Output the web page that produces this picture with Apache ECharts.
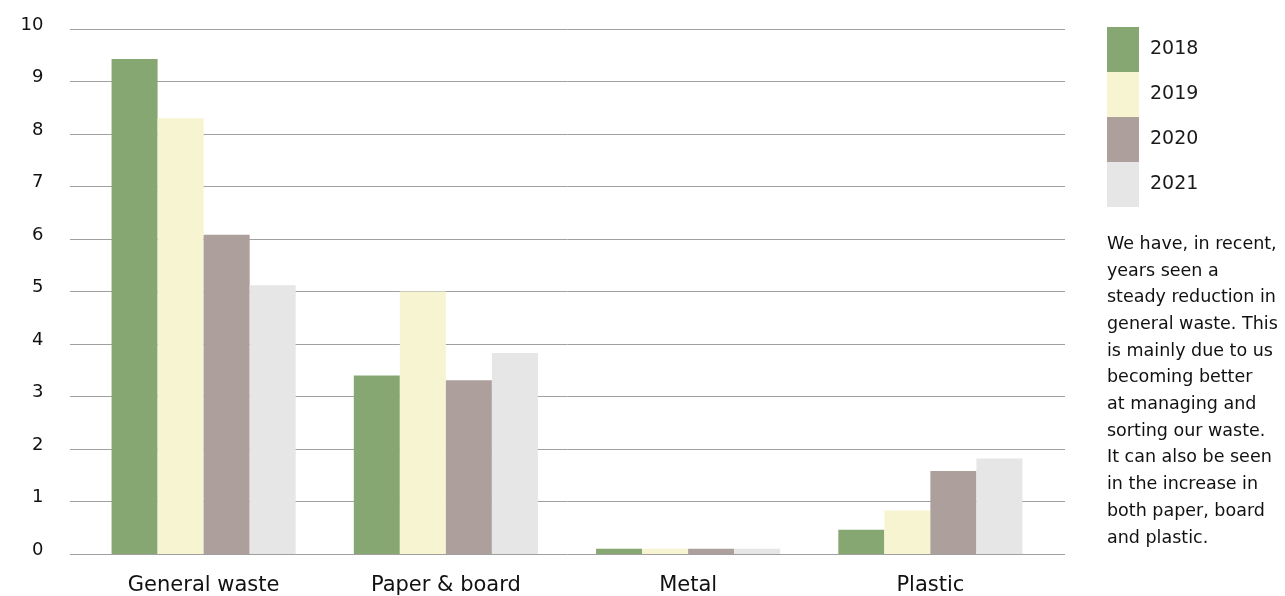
<!DOCTYPE html>
<html><head><meta charset="utf-8">
<script src="https://cdn.jsdelivr.net/npm/echarts@6/dist/echarts.min.js"></script>
<style>html,body{margin:0;padding:0;background:#fff}#c{width:1285px;height:596px}</style>
</head><body><div id="c"></div>
<script>
const categories = ['General waste', 'Paper & board', 'Metal', 'Plastic'];
const years = ['2018', '2019', '2020', '2021'];
const v2018 = [9.43, 3.40, 0.10, 0.46];
const v2019 = [8.30, 5.00, 0.10, 0.83];
const v2020 = [6.08, 3.31, 0.10, 1.58];
const v2021 = [5.12, 3.83, 0.10, 1.82];
const yTicks = [0, 1, 2, 3, 4, 5, 6, 7, 8, 9, 10];
const noteLines = ['We have, in recent,', 'years seen a', 'steady reduction in', 'general waste. This',
  'is mainly due to us', 'becoming better', 'at managing and', 'sorting our waste.',
  'It can also be seen', 'in the increase in', 'both paper, board', 'and plastic.'];

const colors = ['#86a771', '#f7f4d1', '#ac9f9c', '#e6e6e6'];
const FONT = 'DejaVu Sans';
const chart = echarts.init(document.getElementById('c'), null, {renderer: 'canvas'});
const seriesVals = [v2018, v2019, v2020, v2021];
chart.setOption({
  animation: false,
  color: colors,
  textStyle: {fontFamily: FONT},
  grid: [
    {left: 82.5, right: 233.5, top: 29, bottom: 42, outerBoundsMode: 'none', containLabel: false},
    {left: 70, right: 220, top: 29, bottom: 42, outerBoundsMode: 'none', containLabel: false}
  ],
  legend: {
    orient: 'vertical', left: 1107, top: 27, padding: 0, itemWidth: 32, itemHeight: 45, itemGap: 0,
    icon: 'rect', data: years,
    textStyle: {fontSize: 19, color: '#1a1a1a', fontFamily: FONT, padding: [0, 0, 0, 6]}
  },
  xAxis: [
    {type: 'category', gridIndex: 0, data: categories,
     axisLine: {show: false}, axisTick: {show: false},
     axisLabel: {fontSize: 21, color: '#111', margin: 21, fontFamily: FONT}},
    {type: 'category', gridIndex: 1, data: categories, show: false}
  ],
  yAxis: [
    {type: 'value', gridIndex: 0, min: yTicks[0], max: yTicks[yTicks.length - 1], interval: 1,
     splitLine: {show: false}, axisLine: {show: false}, axisTick: {show: false},
     axisLabel: {fontSize: 18, color: '#111', margin: 39, fontFamily: FONT,
                 verticalAlign: 'bottom', lineHeight: 8}},
    {type: 'value', gridIndex: 1, min: yTicks[0], max: yTicks[yTicks.length - 1], interval: 1,
     axisLabel: {show: false}, axisLine: {show: false}, axisTick: {show: false},
     splitLine: {show: true, lineStyle: {color: '#a0a0a0', width: 1}}}
  ],
  series: years.map((y, i) => ({
    name: y, type: 'bar', xAxisIndex: 0, yAxisIndex: 0, data: seriesVals[i],
    barGap: '0%', barCategoryGap: '24%', z: 3,
    itemStyle: {color: colors[i]}
  })),
  graphic: [{
    type: 'text', left: 1107, top: 231, z: 10,
    style: {text: noteLines.join('\n'), fontSize: 17.5, lineHeight: 26.7, fill: '#111', fontFamily: FONT}
  }]
});
</script></body></html>
